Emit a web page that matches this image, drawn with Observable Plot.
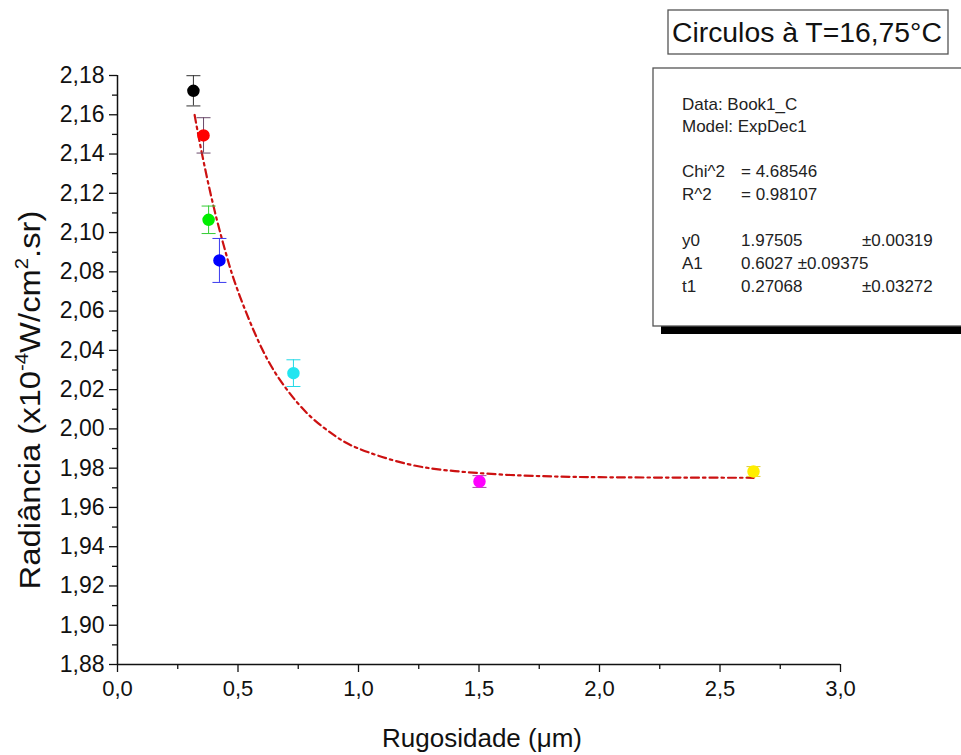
<!DOCTYPE html>
<html>
<head>
<meta charset="utf-8">
<script src="https://cdn.jsdelivr.net/npm/d3@7"></script>
<script src="https://cdn.jsdelivr.net/npm/@observablehq/plot@0.6"></script>
<style>
  body { margin: 0; background: #fff; }
  #chart { position: relative; width: 961px; height: 755px; }
  svg text { font-family: "Liberation Sans", Arial, sans-serif; }
</style>
</head>
<body>
<div id="chart"></div>
<script>
// Measured points (Rugosidade in µm, Radiância in x10^-4 W/cm².sr)
const rugosidade = [0.315, 0.357, 0.378, 0.423, 0.730, 1.502, 2.639];
const radiancia  = [2.1722, 2.1495, 2.1065, 2.0858, 2.0284, 1.9732, 1.9783];
const erro       = [0.0077, 0.0090, 0.0070, 0.0112, 0.0068, 0.0030, 0.0025];
const cores      = ["#000000", "#ff0000", "#00ee00", "#0000ff", "#22e5f0", "#ff00ff", "#ffee00"];
const coresErro  = ["#333333", "#6a4a6a", "#33cc33", "#3a3aee", "#22d8e6", "#aa44aa", "#ddcc33"];

// ExpDec1 fit curve
const fitX = [0.32, 0.35, 0.40, 0.45, 0.50, 0.60, 0.70, 0.80, 0.90, 1.00, 1.20, 1.40, 1.60, 1.80, 2.00, 2.30, 2.64];
const fitY = [2.1599, 2.1405, 2.1126, 2.0894, 2.0701, 2.0407, 2.0205, 2.0064, 1.9967, 1.9900, 1.9822, 1.9785, 1.9767, 1.9758, 1.9754, 1.9752, 1.9751];

// Ticks
const xTicks = [0, 0.5, 1.0, 1.5, 2.0, 2.5, 3.0];
const xMinor = [0.25, 0.75, 1.25, 1.75, 2.25, 2.75];
const yTicks = [1.88, 1.90, 1.92, 1.94, 1.96, 1.98, 2.00, 2.02, 2.04, 2.06, 2.08, 2.10, 2.12, 2.14, 2.16, 2.18];
const yMinor = [1.89, 1.91, 1.93, 1.95, 1.97, 1.99, 2.01, 2.03, 2.05, 2.07, 2.09, 2.11, 2.13, 2.15, 2.17];

const titulo = "Circulos à T=16,75°C";
const xTitulo = "Rugosidade (μm)";
const statsLines = [
  ["Data: Book1_C"],
  ["Model: ExpDec1"],
  [],
  ["Chi^2", "= 4.68546"],
  ["R^2", "= 0.98107"],
  [],
  ["y0", "1.97505", "±0.00319"],
  ["A1", "0.6027 ±0.09375"],
  ["t1", "0.27068", "±0.03272"]
];

const pts = rugosidade.map((x, i) => ({x, y: radiancia[i], e: erro[i], c: cores[i], ce: coresErro[i]}));
const caps = pts.flatMap((d) => [{x: d.x, y: d.y - d.e, ce: d.ce}, {x: d.x, y: d.y + d.e, ce: d.ce}]);
const fit = fitX.map((x, i) => ({x, y: fitY[i]}));
const comma = (f) => (d) => d3.format(f)(d).replace(".", ",");
const capSymbol = {draw(context) { context.moveTo(-7, 0); context.lineTo(7, 0); }};

const W = 961, H = 755;
const plot = Plot.plot({
  width: W,
  height: H,
  marginLeft: 117,
  marginRight: 121,
  marginTop: 75,
  marginBottom: 91,
  style: {fontFamily: "Liberation Sans, Arial, sans-serif", fontSize: "22px", color: "#111", background: "#fff"},
  x: {domain: [0, 3]},
  y: {domain: [1.88, 2.18]},
  marks: [
    Plot.axisX({ticks: xTicks, tickSize: 8, tickPadding: 8, tickFormat: comma(".1f"), label: null, fontSize: 22, stroke: "#111", strokeWidth: 1.3}),
    Plot.axisX({ticks: xMinor, tickSize: 5, tickFormat: () => "", label: null, stroke: "#111", strokeWidth: 1.3}),
    Plot.axisY({ticks: yTicks, tickSize: 8, tickPadding: 5, tickFormat: comma(".2f"), label: null, fontSize: 23, stroke: "#111", strokeWidth: 1.3}),
    Plot.axisY({ticks: yMinor, tickSize: 5, tickFormat: () => "", label: null, stroke: "#111", strokeWidth: 1.3}),
    Plot.ruleX([0], {stroke: "#111", strokeWidth: 1.5}),
    Plot.ruleY([1.88], {stroke: "#111", strokeWidth: 1.5}),
    Plot.line(fit, {x: "x", y: "y", curve: "natural", stroke: "#cc1111", strokeWidth: 2.2, strokeDasharray: "8,4,2.5,4"}),
    Plot.ruleX(pts, {x: "x", y1: (d) => d.y - d.e, y2: (d) => d.y + d.e, stroke: "ce", strokeWidth: 1}),
    Plot.dot(caps, {x: "x", y: "y", symbol: capSymbol, stroke: "ce", fill: "none", strokeWidth: 1}),
    Plot.dot(pts, {x: "x", y: "y", r: 5.5, fill: "c", stroke: "c"})
  ]
});
document.getElementById("chart").appendChild(plot);

const svg = d3.select(plot);

function addText(x, y, str, size, anchor, fill) {
  return svg.append("text")
    .attr("transform", `translate(${x},${y})`)
    .attr("text-anchor", anchor)
    .attr("font-size", size)
    .attr("fill", fill || "#111")
    .text(str);
}
function fitWidth(sel, x, y, target, rotate) {
  const len = sel.node().getComputedTextLength();
  const s = target / len;
  sel.attr("transform", `translate(${x},${y})${rotate ? " rotate(-90)" : ""} scale(${s},1)`);
}

// Y axis title with superscripts
const yl = svg.append("text").attr("text-anchor", "middle").attr("font-size", 29).attr("fill", "#111");
yl.append("tspan").text("Radiância (x10");
yl.append("tspan").attr("font-size", 18).attr("dy", -12).text("-4");
yl.append("tspan").attr("dy", 12).text("W/cm");
yl.append("tspan").attr("font-size", 18).attr("dy", -12).text("2");
yl.append("tspan").attr("dy", 12).text(".sr)");
fitWidth(yl, 40, 400, 379, true);

// X axis title
addText(482, 747, xTitulo, 26, "middle");

// Title box
svg.append("rect").attr("x", 668).attr("y", 10).attr("width", 280).attr("height", 44)
  .attr("fill", "#fff").attr("stroke", "#555").attr("stroke-width", 1.3);
const tl = addText(0, 0, titulo, 27, "start");
fitWidth(tl, 672, 42, 270, false);

// Stats box with shadow
svg.append("rect").attr("x", 661).attr("y", 76).attr("width", 310).attr("height", 258).attr("fill", "#000");
svg.append("rect").attr("x", 653).attr("y", 68).attr("width", 320).attr("height", 258)
  .attr("fill", "#fff").attr("stroke", "#555").attr("stroke-width", 1.3);
const lineY = [110, 132, 155, 177, 200, 223, 246, 269, 292];
statsLines.forEach((row, i) => {
  row.forEach((t, j) => {
    const x = j === 0 ? 682 : j === 1 ? 741 : 862;
    addText(x, lineY[i], t, 17, "start", "#222");
  });
});
</script>
</body>
</html>
